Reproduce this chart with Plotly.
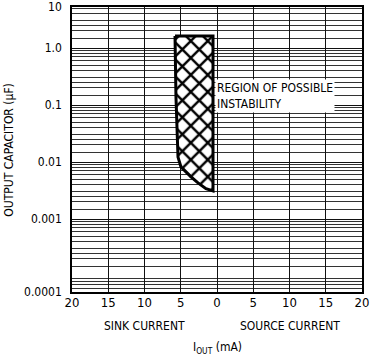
import numpy as np
import plotly.graph_objects as go

# x axis: output current in mA, sink shown as negative
current_ticks = [-20, -15, -10, -5, 0, 5, 10, 15, 20]
current_labels = ["20", "15", "10", "5", "0", "5", "10", "15", "20"]

# y axis: output capacitor (uF), log scale; end labels sit at the frame edges
cap_range_log = [-4.28, 0.72]
cap_ticks = [10 ** 0.72, 1.0, 0.1, 0.01, 0.001, 10 ** -4.28]
cap_labels = ["10", "1.0", "0.1", "0.01", "0.001", "0.0001"]

# outline of the region of possible instability
region_current = [-5.79, -0.55, -0.55, -1.52, -2.62, -3.59, -4.97, -5.38, -5.66, -5.79]
region_cap = [1.62, 1.62, 0.0031, 0.0034, 0.0043, 0.0055, 0.0082, 0.0122, 0.138, 1.62]

FONT = "Liberation Sans Narrow, DejaVu Sans Condensed, Arial Narrow, sans-serif"

minor_vals = [m * 10.0 ** d for d in range(-5, 1) for m in (1.5, 2, 2.5, 3, 4, 5, 6, 7, 8, 9)
              if cap_range_log[0] < np.log10(m * 10.0 ** d) < cap_range_log[1]]

fig = go.Figure()
fig.add_trace(go.Scatter(
    x=region_current, y=region_cap, mode="lines", fill="toself",
    line=dict(color="black", width=3),
    fillcolor="white",
    fillpattern=dict(shape="x", size=12, solidity=0.36, fgcolor="black",
                     fgopacity=1, bgcolor="white"),
    hoverinfo="skip", showlegend=False,
))

fig.update_xaxes(
    range=[-20, 20], tickvals=current_ticks, ticktext=current_labels,
    showgrid=True, gridcolor="#111", gridwidth=1, zeroline=False,
    showline=True, linecolor="black", linewidth=1.5, mirror=True,
    ticks="", ticklabelstandoff=-2, automargin=False,
    tickfont=dict(family=FONT, size=13, color="black"),
)
fig.update_yaxes(
    type="log", range=cap_range_log, tickvals=cap_ticks, ticktext=cap_labels,
    showgrid=True, gridcolor="#111", gridwidth=1, zeroline=False,
    showline=True, linecolor="black", linewidth=1.5, mirror=True,
    ticks="", ticklabelstandoff=6, automargin=False,
    tickfont=dict(family=FONT, size=12, color="black"),
    minor=dict(tickvals=minor_vals, showgrid=True, gridcolor="#333", gridwidth=0.8),
)

ann = dict(font=dict(family=FONT, size=12, color="black"), showarrow=False,
           xanchor="center", yanchor="middle")
fig.add_annotation(x=-0.3, y=-0.84, xref="x", yref="y",
                   text="REGION OF POSSIBLE<br>INSTABILITY", align="left",
                   bgcolor="white", borderpad=1,
                   **{**ann, "xanchor": "left"})
fig.add_annotation(x=-0.22, y=0.5, xref="paper", yref="paper", textangle=-90,
                   text="OUTPUT CAPACITOR (µF)", **ann)
fig.add_annotation(x=0.25, y=-0.12, xref="paper", yref="paper",
                   text="SINK CURRENT", **ann)
fig.add_annotation(x=0.75, y=-0.12, xref="paper", yref="paper",
                   text="SOURCE CURRENT", **ann)
fig.add_annotation(x=0.5, y=-0.195, xref="paper", yref="paper",
                   text="I<sub>OUT</sub> (mA)", **ann)

fig.update_layout(
    width=379, height=356,
    margin=dict(l=72, r=17, t=7, b=64),
    plot_bgcolor="white", paper_bgcolor="white",
)
# drop the browser's default page margin so the figure sits at the corner
fig.write_html("out.html", config={"displayModeBar": False},
               post_script="document.body.style.margin='0px';")
